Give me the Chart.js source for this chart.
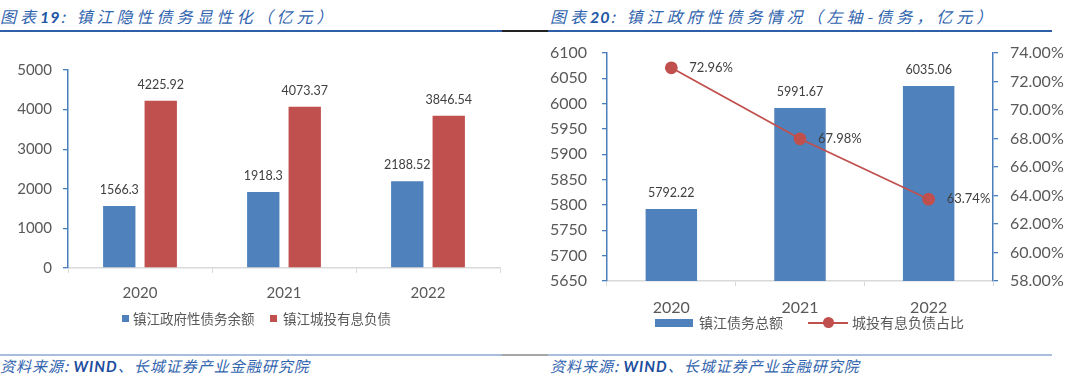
<!DOCTYPE html>
<html>
<head>
<meta charset="utf-8">
<script src="https://cdn.jsdelivr.net/npm/chart.js@4.4.1/dist/chart.umd.min.js"></script>
<style>
html,body{margin:0;padding:0;background:#fff;}
body{width:1080px;height:388px;position:relative;overflow:hidden;font-family:Lato,"Noto Sans CJK SC",sans-serif;}
.box{position:absolute;}
.ttl{position:absolute;top:5px;font-family:"Noto Sans CJK SC",sans-serif;font-style:italic;font-size:16px;letter-spacing:4px;color:#3164AE;white-space:nowrap;line-height:22px;}
.ttl b{font-family:Lato,sans-serif;font-weight:700;color:#2256A6;letter-spacing:1px;}
.src{position:absolute;top:356px;font-family:"Noto Sans CJK SC",sans-serif;font-style:italic;font-size:15px;letter-spacing:1px;color:#3164AE;white-space:nowrap;line-height:20px;}
.src b{font-family:Lato,sans-serif;font-weight:700;color:#1D4E9E;}
.hl{position:absolute;height:2px;}
.lg{position:absolute;font-family:"Noto Sans CJK SC",sans-serif;color:#595959;white-space:nowrap;line-height:18px;}
.sw{position:absolute;}
</style>
</head>
<body>
<div class="ttl" style="left:0">图表<b>19</b>:&nbsp;镇江隐性债务显性化（亿元）</div>
<div class="ttl" style="left:550px">图表<b>20</b>:&nbsp;镇江政府性债务情况（左轴-债务，亿元）</div>
<div class="hl" style="left:0;width:502px;top:30px;background:#2F5FA8"></div>
<div class="hl" style="left:502px;width:46px;top:30px;background:#222"></div>
<div class="hl" style="left:548px;width:504px;top:30px;background:#2F5FA8"></div>
<div class="hl" style="left:0;width:502px;top:354px;background:#A9BEDC"></div>
<div class="hl" style="left:502px;width:46px;top:354px;background:#A6A6A6"></div>
<div class="hl" style="left:548px;width:504px;top:354px;background:#A9BEDC"></div>

<div class="box" style="left:0;top:40px;width:540px;height:280px"><canvas id="c1"></canvas></div>
<div class="box" style="left:540px;top:23px;width:540px;height:307px"><canvas id="c2"></canvas></div>

<div class="sw" style="left:122px;top:315px;width:7px;height:7px;background:#4F81BD"></div>
<div class="lg" style="left:133px;top:309px;font-size:13.5px">镇江政府性债务余额</div>
<div class="sw" style="left:270px;top:315px;width:7px;height:7px;background:#C0504D"></div>
<div class="lg" style="left:283px;top:309px;font-size:13.5px">镇江城投有息负债</div>

<div class="sw" style="left:655px;top:319px;width:38px;height:8px;background:#4F81BD"></div>
<div class="lg" style="left:699px;top:313px;font-size:14px">镇江债务总额</div>
<div class="sw" style="left:808px;top:322px;width:40px;height:2px;background:#C0504D"></div>
<div class="sw" style="left:823px;top:317px;width:11px;height:11px;border-radius:50%;background:#C0504D"></div>
<div class="lg" style="left:852px;top:313px;font-size:14px">城投有息负债占比</div>

<div class="src" style="left:0">资料来源:&nbsp;<b>WIND</b>、长城证券产业金融研究院</div>
<div class="src" style="left:550px">资料来源:&nbsp;<b>WIND</b>、长城证券产业金融研究院</div>

<script>
const years=["2020","2021","2022"];
// 图表19
const govDebt=[1566.3,1918.3,2188.52];
const ctDebt=[4225.92,4073.37,3846.54];
// 图表20
const totalDebt=[5792.22,5991.67,6035.06];
const ctShare=[72.96,67.98,63.74];

const BLUE="#4F81BD",RED="#C0504D",AX="#4A7EBB",GR="#D9D9D9",TXT="#595959";
const FONT='Lato,"Noto Sans CJK SC",sans-serif';

const valueLabels={id:"valueLabels",
  afterDatasetsDraw(chart){
    const ctx=chart.ctx;
    chart.data.datasets.forEach((ds,i)=>{
      if(!ds.lbl)return;
      chart.getDatasetMeta(i).data.forEach((el,j)=>{
        ctx.save();
        ctx.font=ds.lbl.size+"px "+FONT; ctx.fillStyle="#404040"; ctx.textBaseline="middle";
        const t=ds.lbl.fmt(ds.data[j]);
        if(ds.lbl.pos==="right"){ctx.textAlign="left";ctx.fillText(t,el.x+18,el.y);}
        else{ctx.textAlign="center";ctx.fillText(t,el.x,el.y-16);}
        ctx.restore();
      });
    });
  }};

const xAxis=(size,pad,h)=>({
  grid:{offset:true,drawOnChartArea:false,drawTicks:true,tickLength:5,color:GR},
  border:{color:GR,width:1.5},
  ticks:{color:TXT,font:{size,family:FONT},padding:pad},
  afterFit:s=>{s.height=h;}
});
const yAxis=(pos,min,max,step,pad,w,size,cb)=>({
  position:pos,min,max,
  grid:{drawOnChartArea:false,drawTicks:true,tickLength:5,color:AX,lineWidth:1.3},
  border:{color:AX,width:1.5},
  ticks:{stepSize:step,color:TXT,font:{size,family:FONT},padding:pad,callback:cb},
  afterFit:s=>{s.width=w;}
});

new Chart(document.getElementById("c1"),{
  type:"bar",
  data:{labels:years,datasets:[
    {label:"镇江政府性债务余额",data:govDebt,backgroundColor:BLUE,categoryPercentage:0.576,barPercentage:0.78,lbl:{size:12.5,fmt:v=>String(v)}},
    {label:"镇江城投有息负债",data:ctDebt,backgroundColor:RED,categoryPercentage:0.576,barPercentage:0.78,lbl:{size:12.5,fmt:v=>String(v)}}
  ]},
  options:{responsive:true,maintainAspectRatio:false,animation:false,
    layout:{padding:{top:30,right:40,left:0,bottom:0}},
    scales:{x:xAxis(15,11,52),y:yAxis("left",0,5000,1000,11,68,15,v=>v)},
    plugins:{legend:{display:false},tooltip:{enabled:false}}},
  plugins:[valueLabels]
});

new Chart(document.getElementById("c2"),{
  type:"bar",
  data:{labels:years,datasets:[
    {type:"line",label:"城投有息负债占比",data:ctShare,yAxisID:"y1",order:0,borderColor:RED,borderWidth:1.8,
      pointRadius:5.5,pointBackgroundColor:RED,pointBorderColor:RED,tension:0,lbl:{size:13,pos:"right",fmt:v=>v.toFixed(2)+"%"}},
    {label:"镇江债务总额",data:totalDebt,yAxisID:"y",order:1,backgroundColor:BLUE,categoryPercentage:0.4,barPercentage:1,
      lbl:{size:12.5,fmt:v=>v.toFixed(2)}}
  ]},
  options:{responsive:true,maintainAspectRatio:false,animation:false,
    layout:{padding:{top:30,right:0,left:0,bottom:0}},
    scales:{x:xAxis(16,12,49),
      y:yAxis("left",5650,6100,50,15,67,16,v=>v),
      y1:yAxis("right",58,74,2,12,87,16,v=>v.toFixed(2)+"%")},
    plugins:{legend:{display:false},tooltip:{enabled:false}}},
  plugins:[valueLabels]
});
</script>
</body>
</html>
